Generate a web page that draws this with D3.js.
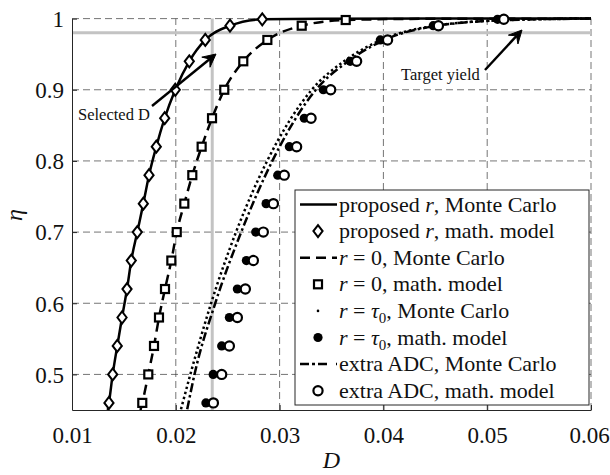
<!DOCTYPE html>
<html><head><meta charset="utf-8">
<script src="https://cdn.jsdelivr.net/npm/d3@7"></script>
<style>body{margin:0;background:#fff}svg{display:block}</style>
</head><body>
<script>
// ---------- data ----------
const xTicks = [0.01, 0.02, 0.03, 0.04, 0.05, 0.06];
const xTickLabels = ["0.01", "0.02", "0.03", "0.04", "0.05", "0.06"];
const yTicks = [0.5, 0.6, 0.7, 0.8, 0.9, 1];
const yTickLabels = ["0.5", "0.6", "0.7", "0.8", "0.9", "1"];

// proposed r, math. model (diamonds)
const propModel = [[0.01356,0.46],[0.01392,0.50],[0.01436,0.54],[0.01482,0.58],[0.0153,0.62],[0.01571,0.66],[0.01629,0.70],[0.01687,0.74],[0.01742,0.78],[0.01812,0.82],[0.01893,0.86],[0.01995,0.90],[0.0213,0.94],[0.02284,0.97],[0.02522,0.99],[0.02833,0.999]];
// proposed r, Monte Carlo (solid)
const propMC = [[0.01345,0.45],[0.01356,0.46],[0.01392,0.50],[0.01436,0.54],[0.01482,0.58],[0.0153,0.62],[0.01571,0.66],[0.01629,0.70],[0.01687,0.74],[0.01742,0.78],[0.01812,0.82],[0.01893,0.86],[0.01995,0.90],[0.0213,0.94],[0.02284,0.97],[0.02522,0.99],[0.02833,0.999],[0.034,0.9998],[0.045,1],[0.06,1]];
// r = 0, math. model (squares)
const zeroModel = [[0.01677,0.46],[0.01735,0.50],[0.0179,0.54],[0.01838,0.58],[0.01896,0.62],[0.01957,0.66],[0.02009,0.70],[0.02082,0.74],[0.02159,0.78],[0.02249,0.82],[0.02349,0.86],[0.02467,0.90],[0.0265,0.94],[0.02882,0.97],[0.03213,0.99],[0.03637,0.998]];
// r = 0, Monte Carlo (dashed)
const zeroMC = [[0.0166,0.45],[0.01677,0.46],[0.01735,0.50],[0.0179,0.54],[0.01838,0.58],[0.01896,0.62],[0.01957,0.66],[0.02009,0.70],[0.02082,0.74],[0.02159,0.78],[0.02249,0.82],[0.02349,0.86],[0.02467,0.90],[0.0265,0.94],[0.02882,0.97],[0.03213,0.99],[0.03637,0.998],[0.044,0.9997],[0.06,1]];
// r = tau0, math. model (filled circles)
const tauModel = [[0.0229,0.46],[0.0236,0.50],[0.02442,0.54],[0.02516,0.58],[0.02593,0.62],[0.0268,0.66],[0.0277,0.70],[0.0287,0.74],[0.02982,0.78],[0.03094,0.82],[0.03238,0.86],[0.03421,0.90],[0.0368,0.94],[0.0397,0.97],[0.0448,0.99],[0.0510,0.999]];
// r = tau0, Monte Carlo (dotted)
const tauMC = [[0.0205,0.451],[0.0214,0.50],[0.0234,0.60],[0.0258,0.70],[0.0288,0.80],[0.0331,0.90],[0.0362,0.94],[0.0398,0.97],[0.0450,0.99],[0.0520,0.998],[0.06,1]];
// extra ADC, math. model (open circles)
const adcModel = [[0.02362,0.46],[0.02442,0.50],[0.02516,0.54],[0.02593,0.58],[0.0267,0.62],[0.02747,0.66],[0.02843,0.70],[0.0294,0.74],[0.03045,0.78],[0.03164,0.82],[0.03303,0.86],[0.03492,0.90],[0.03742,0.94],[0.0404,0.97],[0.0453,0.99],[0.0516,0.999]];
// extra ADC, Monte Carlo (dash-dot)
const adcMC = [[0.0211,0.451],[0.0218,0.50],[0.0238,0.60],[0.0263,0.70],[0.0293,0.80],[0.0335,0.90],[0.0366,0.94],[0.0401,0.97],[0.0452,0.99],[0.0521,0.998],[0.06,1]];

const selectedD = 0.02351;
const targetYield = 0.98;

// ---------- layout ----------
const W = 610, H = 475;
const pL = 72, pR = 591, pT = 18.6, pB = 410;
const FONT = "'Liberation Serif','Times New Roman',serif";
const ink = "#262626";

const x = d3.scaleLinear().domain([0.01, 0.06]).range([pL, pR]);
const y = d3.scaleLinear().domain([0.45, 1]).range([pB, pT]);

const svg = d3.select("body").append("svg").attr("width", W).attr("height", H)
  .attr("font-family", FONT).style("font-family", FONT);

const defs = svg.append("defs");
defs.append("clipPath").attr("id", "plotclip").append("rect")
  .attr("x", pL).attr("y", pT - 6).attr("width", pR - pL).attr("height", pB - pT + 6);

// grid
const grid = svg.append("g").attr("stroke", "#3a3a3a").attr("stroke-width", 0.7).attr("stroke-dasharray", "7,4");
xTicks.forEach(t => { if (t > 0.01) grid.append("line").attr("x1", x(t)).attr("x2", x(t)).attr("y1", pB).attr("y2", pT); });
yTicks.forEach(t => grid.append("line").attr("x1", pL).attr("x2", pR).attr("y1", y(t)).attr("y2", y(t)));

// gray reference lines
svg.append("line").attr("x1", x(selectedD)).attr("x2", x(selectedD)).attr("y1", pT).attr("y2", pB)
  .attr("stroke", "#c3c3c3").attr("stroke-width", 3);
svg.append("line").attr("x1", pL).attr("x2", pR).attr("y1", y(targetYield)).attr("y2", y(targetYield))
  .attr("stroke", "#c3c3c3").attr("stroke-width", 3);

// axes
const xAxis = d3.axisBottom(x).tickValues(xTicks).tickFormat((d, i) => xTickLabels[i]).tickSizeInner(-5).tickSizeOuter(0).tickPadding(12);
const yAxis = d3.axisLeft(y).tickValues(yTicks).tickFormat((d, i) => yTickLabels[i]).tickSizeInner(-5).tickSizeOuter(0).tickPadding(8);
const gx = svg.append("g").attr("transform", `translate(0,${pB})`).call(xAxis);
const gy = svg.append("g").attr("transform", `translate(${pL},0)`).call(yAxis);
[gx, gy].forEach(g => {
  g.attr("font-family", FONT).attr("font-size", 23);
  g.select(".domain").attr("stroke", ink).attr("stroke-width", 1);
  g.selectAll(".tick line").attr("stroke", ink).attr("stroke-width", 1);
  g.selectAll(".tick text").attr("fill", "#111").style("font-family", FONT).style("font-size", "23px");
});
gx.selectAll(".tick text").attr("dy", "0.9em");
gx.selectAll(".tick text").filter((d, i) => i === xTicks.length - 1).attr("dx", -2);
gy.selectAll(".tick text").attr("dy", "0.34em");

// axis labels
svg.append("text").attr("x", x(0.035)).attr("y", 468).attr("text-anchor", "middle")
  .style("font-size", "24px").style("font-style", "italic").attr("fill", "#111").text("D");
svg.append("text").attr("transform", "translate(22,215) rotate(-90)").attr("text-anchor", "middle")
  .style("font-size", "24px").style("font-style", "italic").attr("fill", "#111").text("η");

// curves
const plot = svg.append("g").attr("clip-path", "url(#plotclip)");
const line = d3.line().x(d => x(d[0])).y(d => y(d[1])).curve(d3.curveMonotoneX);
const styles = {
  solid: null,
  dashed: "10,6",
  dotted: "2.4,2.8",
  dashdot: "9,3,2.5,3"
};
function drawLine(data, dash) {
  plot.append("path").datum(data).attr("d", line).attr("fill", "none")
    .attr("stroke", "#000").attr("stroke-width", 2.5).attr("stroke-dasharray", dash);
}
drawLine(tauMC, styles.dotted);
drawLine(adcMC, styles.dashdot);
drawLine(zeroMC, styles.dashed);
drawLine(propMC, styles.solid);

// markers
function diamond(g, cx, cy) {
  g.append("path").attr("d", `M${cx},${cy-6}L${cx+4.6},${cy}L${cx},${cy+6}L${cx-4.6},${cy}Z`)
    .attr("fill", "#fff").attr("stroke", "#000").attr("stroke-width", 2);
}
function square(g, cx, cy) {
  g.append("rect").attr("x", cx - 4).attr("y", cy - 4).attr("width", 8).attr("height", 8)
    .attr("fill", "#fff").attr("stroke", "#000").attr("stroke-width", 2.2);
}
function dot(g, cx, cy) {
  g.append("circle").attr("cx", cx).attr("cy", cy).attr("r", 4.6).attr("fill", "#000");
}
function ring(g, cx, cy) {
  g.append("circle").attr("cx", cx).attr("cy", cy).attr("r", 4.6)
    .attr("fill", "#fff").attr("stroke", "#000").attr("stroke-width", 2.2);
}
const mk = svg.append("g");
tauModel.forEach(d => dot(mk, x(d[0]), y(d[1])));
adcModel.forEach(d => ring(mk, x(d[0]), y(d[1])));
zeroModel.forEach(d => square(mk, x(d[0]), y(d[1])));
propModel.forEach(d => diamond(mk, x(d[0]), y(d[1])));

// annotations with arrows
function arrow(x1, y1, x2, y2) {
  const ang = Math.atan2(y2 - y1, x2 - x1);
  const L = 13, Wd = 6.5, notch = 8;
  const bx = x2 - L * Math.cos(ang), by = y2 - L * Math.sin(ang);
  const nx = x2 - notch * Math.cos(ang), ny = y2 - notch * Math.sin(ang);
  const px = -Math.sin(ang), py = Math.cos(ang);
  svg.append("line").attr("x1", x1).attr("y1", y1).attr("x2", nx).attr("y2", ny)
    .attr("stroke", "#000").attr("stroke-width", 2.4);
  svg.append("path").attr("d",
    `M${x2},${y2}L${bx + px*Wd},${by + py*Wd}L${nx},${ny}L${bx - px*Wd},${by - py*Wd}Z`)
    .attr("fill", "#000").attr("stroke", "#000").attr("stroke-width", 1);
}
arrow(152, 106, 216, 54);
svg.append("text").attr("x", 78).attr("y", 120).style("font-size", "16.5px").attr("fill", "#111").text("Selected D");
arrow(485, 70, 522, 30);
svg.append("text").attr("x", 401).attr("y", 80).style("font-size", "16.5px").attr("fill", "#111").text("Target yield");

// legend
const lg = svg.append("g");
lg.append("rect").attr("x", 295).attr("y", 190).attr("width", 294).attr("height", 215)
  .attr("fill", "#fff").attr("stroke", ink).attr("stroke-width", 1);
const legendItems = [
  {type: "line", dash: styles.solid, label: [["proposed ", false], ["r", true], [", Monte Carlo", false]]},
  {type: "diamond", label: [["proposed ", false], ["r", true], [", math. model", false]]},
  {type: "line", dash: styles.dashed, label: [["r", true], [" = 0, Monte Carlo", false]]},
  {type: "square", label: [["r", true], [" = 0, math. model", false]]},
  {type: "smalldot", label: [["r", true], [" = ", false], ["τ", true], ["0", "sub"], [", Monte Carlo", false]]},
  {type: "dot", label: [["r", true], [" = ", false], ["τ", true], ["0", "sub"], [", math. model", false]]},
  {type: "line", dash: "9,3,3,3,9", label: [["extra ADC, Monte Carlo", false]]},
  {type: "ring", label: [["extra ADC, math. model", false]]}
];
legendItems.forEach((it, i) => {
  const cy = 204.5 + i * 26.6;
  if (it.type === "line") {
    lg.append("line").attr("x1", 300).attr("x2", 337).attr("y1", cy).attr("y2", cy)
      .attr("stroke", "#000").attr("stroke-width", 2.5).attr("stroke-dasharray", it.dash);
  } else if (it.type === "diamond") diamond(lg, 318, cy);
  else if (it.type === "square") square(lg, 318, cy);
  else if (it.type === "dot") dot(lg, 318, cy);
  else if (it.type === "ring") ring(lg, 318, cy);
  else if (it.type === "smalldot") lg.append("circle").attr("cx", 318).attr("cy", cy).attr("r", 1.3).attr("fill", "#000");
  const t = lg.append("text").attr("x", 339).attr("y", cy + 7).style("font-size", "22px").attr("fill", "#111");
  it.label.forEach(([s, f]) => {
    const ts = t.append("tspan").text(s);
    if (f === true) ts.style("font-style", "italic");
    if (f === "sub") ts.style("font-size", "15px").attr("dy", 5);
    if (f === false && it.label.some(l => l[1] === "sub") && s.startsWith(",")) ts.attr("dy", -5);
  });
});
</script>
</body></html>
